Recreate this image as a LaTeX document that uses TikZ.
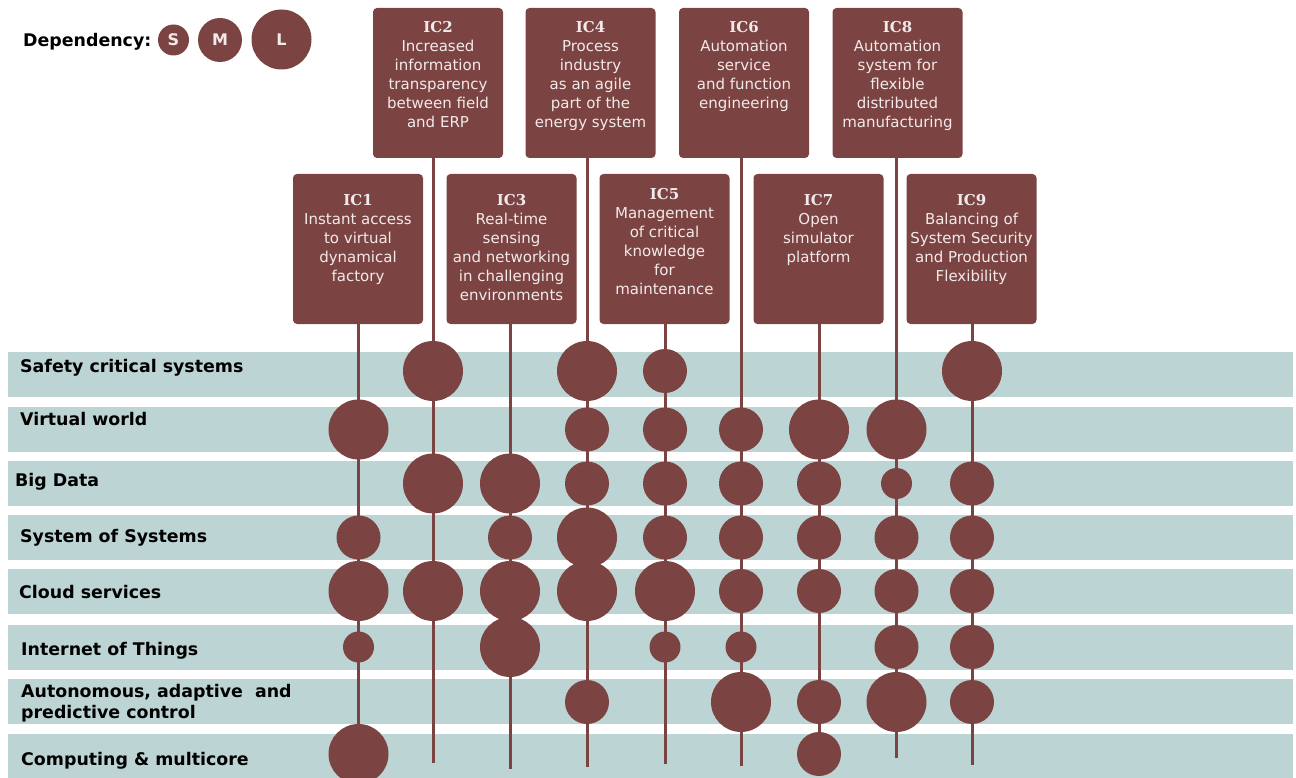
\documentclass[tikz,border=0pt]{standalone}
\usepackage{fontspec}
\setmainfont{DejaVu Sans}
\newfontfamily\icfont{DejaVu Serif}
\usetikzlibrary{positioning}

\definecolor{icbrown}{RGB}{123,68,66}
\definecolor{bandblue}{RGB}{188,212,212}
\definecolor{boxtext}{RGB}{242,234,234}

\newcommand\ictitle[1]{{\icfont\bfseries #1}}

\tikzset{
  icbox/.style={fill=icbrown, rounded corners=4pt, minimum width=130pt, minimum height=150pt, inner sep=0pt},
  ictext/.style={text=boxtext, align=center, inner sep=0pt, font=\fontsize{15}{19}\selectfont},
  band/.style={fill=bandblue, minimum width=1285pt, minimum height=45pt, inner sep=0pt},
  rowlabel/.style={font=\fontsize{17.4}{21}\selectfont\bfseries, align=left, inner sep=0pt},
  dot/.style={circle, fill=icbrown, inner sep=0pt, text=boxtext, font=\fontsize{16}{16}\selectfont\bfseries},
  depS/.style={dot, minimum size=31pt},
  depM/.style={dot, minimum size=44pt},
  depL/.style={dot, minimum size=60pt},
  stem/.style={icbrown, line width=3pt},
}

\def\rowy{{371,429.5,483.5,537.5,591,647,702,754}}

\begin{document}
\begin{tikzpicture}[x=1pt,y=-1pt]
\useasboundingbox (0,0) rectangle (1296,778);

% technology rows
\foreach \i/\y in {1/374.5,2/429.5,3/483.5,4/537.5,5/591.5,6/647.5,7/701,8/756}
  \node[band] (band\i) at (650.5,\y) {};

\node[rowlabel, anchor=base west] (lab1) at (20,372.5) {Safety critical systems};
\node[rowlabel, anchor=base west] (lab2) at (20,425.5) {Virtual world};
\node[rowlabel, anchor=base west] (lab3) at (15,486.5) {Big Data};
\node[rowlabel, anchor=base west] (lab4) at (20,542.5) {System of Systems};
\node[rowlabel, anchor=base west] (lab5) at (19,598.5) {Cloud services};
\node[rowlabel, anchor=base west] (lab6) at (21,655.5) {Internet of Things};
\node[rowlabel, anchor=west] (lab7) at (21,703) {Autonomous, adaptive\ \ and\\predictive control};
\node[rowlabel, anchor=base west] (lab8) at (21,765.5) {Computing \& multicore};

% legend
\node[rowlabel, anchor=base west] (deptitle) at (23,46.5) {Dependency:};
\node[depS] (legS) at (173.5,40) {S};
\node[depM] (legM) at (220,40) {M};
\node[depL] (legL) at (281.5,39.5) {L};

% challenge boxes
\node[icbox] (ic2) at (438,83) {};
\node[icbox] (ic4) at (590.5,83) {};
\node[icbox] (ic6) at (744,83) {};
\node[icbox] (ic8) at (897.5,83) {};
\node[icbox] (ic1) at (358,249) {};
\node[icbox] (ic3) at (511.5,249) {};
\node[icbox] (ic5) at (664.5,249) {};
\node[icbox] (ic7) at (818.5,249) {};
\node[icbox] (ic9) at (971.5,249) {};

\node[ictext, below=13.5pt of ic2.north] (t2) {\ictitle{IC2}\\Increased\\information\\transparency\\between field\\and ERP};
\node[ictext, below=13.5pt of ic4.north] (t4) {\ictitle{IC4}\\Process\\industry\\as an agile\\part of the\\energy system};
\node[ictext, below=13.5pt of ic6.north] (t6) {\ictitle{IC6}\\Automation\\service\\and function\\engineering};
\node[ictext, below=13.5pt of ic8.north] (t8) {\ictitle{IC8}\\Automation\\system for\\flexible\\distributed\\manufacturing};
\node[ictext, below=20.5pt of ic1.north] (t1) {\ictitle{IC1}\\Instant access\\to virtual\\dynamical\\factory};
\node[ictext, below=20.5pt of ic3.north] (t3) {\ictitle{IC3}\\Real-time\\sensing\\and networking\\in challenging\\environments};
\node[ictext, below=14.5pt of ic5.north] (t5) {\ictitle{IC5}\\Management\\of critical\\knowledge\\for\\maintenance};
\node[ictext, below=20.5pt of ic7.north] (t7) {\ictitle{IC7}\\Open\\simulator\\platform};
\node[ictext, below=20.5pt of ic9.north] (t9) {\ictitle{IC9}\\Balancing of\\System Security\\and Production\\Flexibility};

% stems and dependencies
\foreach \c/\lx/\ly/\deps in {
  1/358.5/770/{2/L,4/M,5/L,6/S,8/L},
  2/433/763/{1/L,3/L,5/L},
  3/510/769/{3/L,4/M,5/L,6/L},
  4/587/767/{1/L,2/M,3/M,4/L,5/L,7/M},
  5/665/764/{1/M,2/M,3/M,4/M,5/L,6/S},
  6/741/766/{2/M,3/M,4/M,5/M,6/S,7/L},
  7/819/765/{2/L,3/M,4/M,5/M,7/M,8/M},
  8/896.5/758/{2/L,3/S,4/M,5/M,6/M,7/L},
  9/972/765/{1/L,3/M,4/M,5/M,6/M,7/M}}
{
  \coordinate (b\c) at (\lx,\ly);
  \draw[stem] (ic\c.south -| b\c) -- (b\c);
  \foreach \r/\s in \deps {
    \pgfmathsetmacro\yy{\rowy[\r-1]}
    \node[dep\s] (d\c-\r) at (\lx,\yy) {};
  }
}

\end{tikzpicture}
\end{document}
